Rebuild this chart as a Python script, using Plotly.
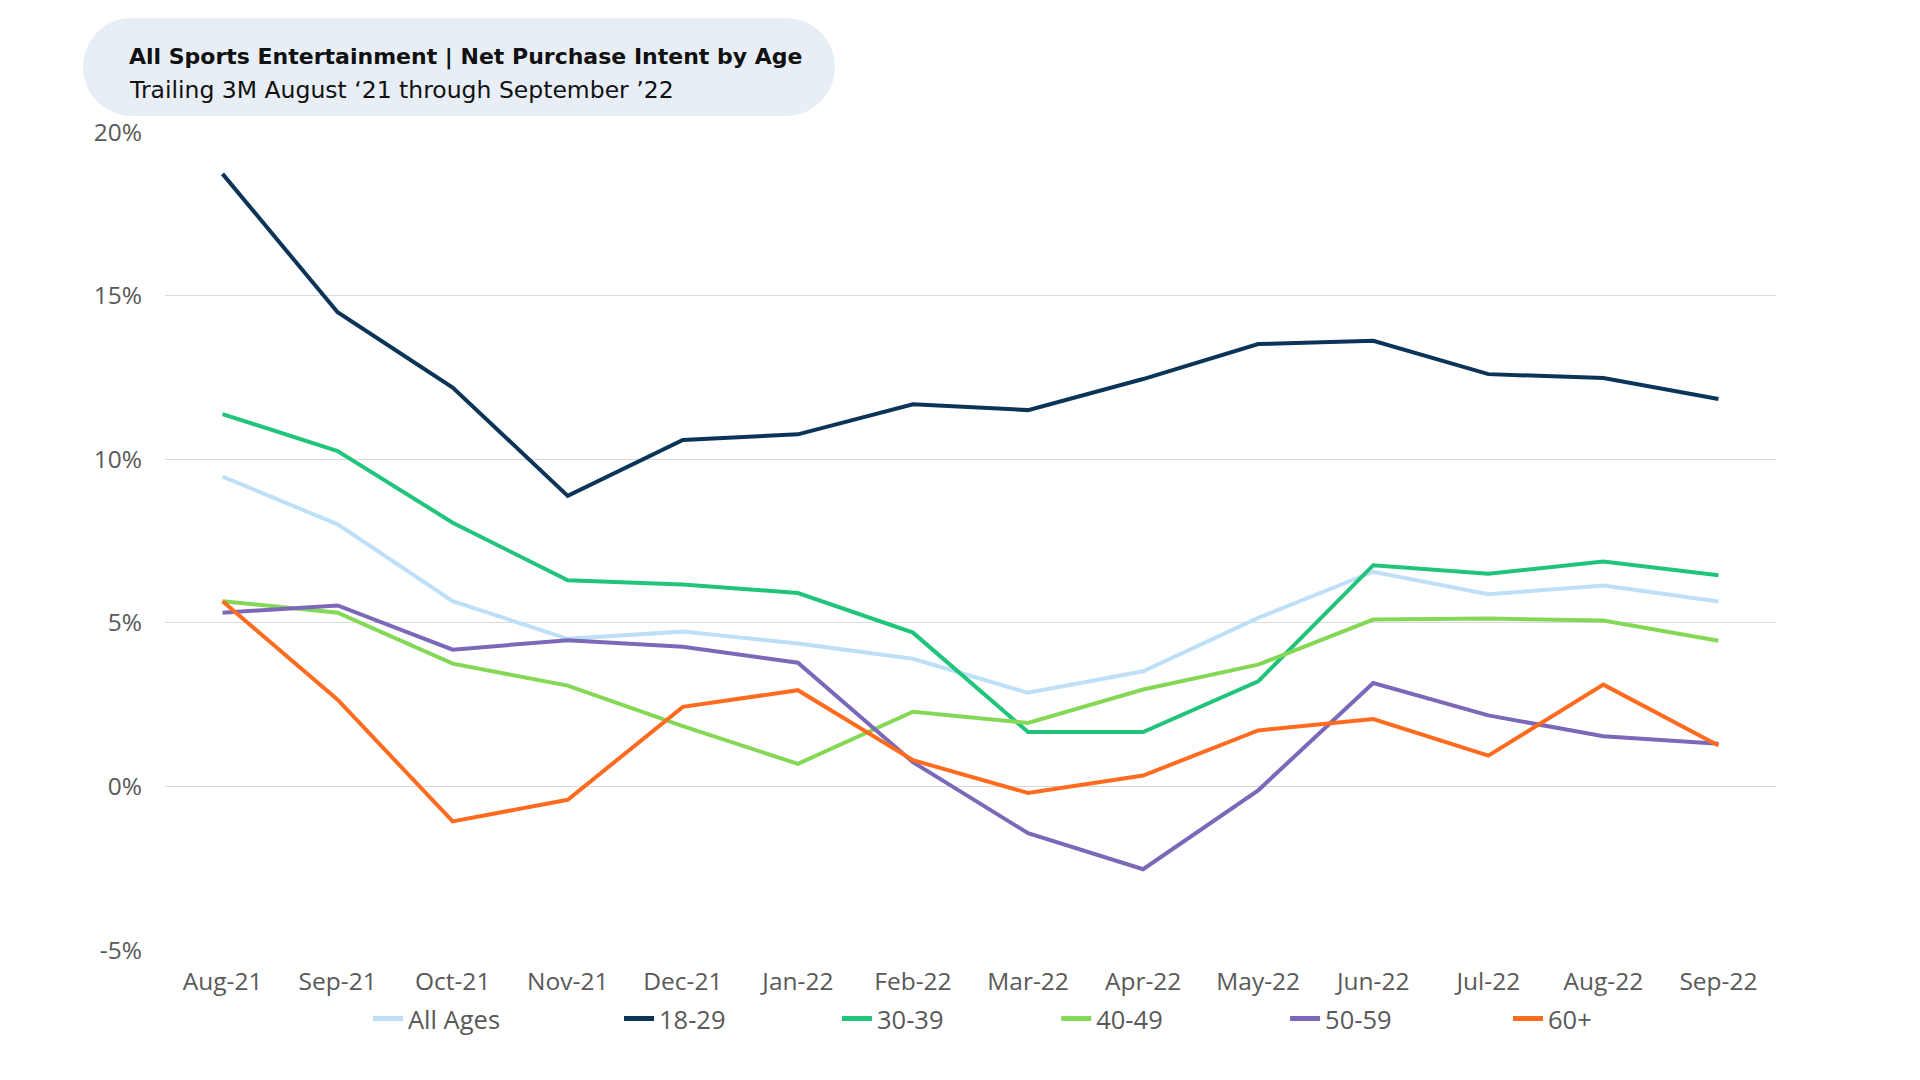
import plotly.graph_objects as go

months = ["Aug-21", "Sep-21", "Oct-21", "Nov-21", "Dec-21", "Jan-22", "Feb-22",
          "Mar-22", "Apr-22", "May-22", "Jun-22", "Jul-22", "Aug-22", "Sep-22"]

all_ages = [9.47, 8.01, 5.66, 4.51, 4.73, 4.37, 3.90, 2.86, 3.52, 5.15, 6.56, 5.87, 6.14, 5.65]
age_18_29 = [18.72, 14.49, 12.19, 8.88, 10.59, 10.76, 11.68, 11.50, 12.45, 13.52, 13.62, 12.60, 12.48, 11.84]
age_30_39 = [11.38, 10.25, 8.06, 6.30, 6.17, 5.91, 4.70, 1.66, 1.66, 3.21, 6.76, 6.50, 6.87, 6.45]
age_40_49 = [5.66, 5.31, 3.75, 3.08, 1.84, 0.69, 2.28, 1.94, 2.96, 3.72, 5.10, 5.13, 5.07, 4.45]
age_50_59 = [5.31, 5.53, 4.18, 4.47, 4.27, 3.78, 0.74, -1.43, -2.53, -0.12, 3.16, 2.17, 1.53, 1.30]
age_60_plus = [5.66, 2.65, -1.07, -0.41, 2.43, 2.94, 0.80, -0.20, 0.33, 1.71, 2.06, 0.94, 3.11, 1.25]

series_names = ["All Ages", "18-29", "30-39", "40-49", "50-59", "60+"]
series_values = [all_ages, age_18_29, age_30_39, age_40_49, age_50_59, age_60_plus]
series_colors = ["#BDDFF8", "#0B3558", "#21C47B", "#84D855", "#7B68B8", "#FF6B1F"]

y_ticks = [-5, 0, 5, 10, 15, 20]
y_tick_labels = ["-5%", "0%", "5%", "10%", "15%", "20%"]

title_text = "All Sports Entertainment | Net Purchase Intent by Age"
subtitle_text = "Trailing 3M August \u201821 through September \u201922"

# page has an 8px body margin; work in screen pixels and shift
OFF = 8
W, H = 1920 - 2 * OFF, 1080 - 2 * OFF
L, R, T, B = 165 - OFF, 1776 - OFF, 132 - OFF, 950 - OFF
PW, PH = R - L, B - T


def px_x(x):
    return (x - OFF - L) / PW


def px_y(y):
    return (B - (y - OFF)) / PH


FONT = "Open Sans"
TITLE_FONT = "DejaVu Sans"

# screen x where each legend entry's line starts
legend_starts = [373.5, 624.5, 842.5, 1061.7, 1290.6, 1513.5]

fig = go.Figure()
for i, (name, vals, col) in enumerate(zip(series_names, series_values, series_colors)):
    lg = "legend" if i == 0 else f"legend{i + 1}"
    fig.add_trace(go.Scatter(
        x=months, y=vals, name=name, mode="lines",
        line=dict(color=col, width=4), legend=lg,
        hovertemplate="%{x}: %{y:.1f}%<extra>" + name + "</extra>",
    ))

# Rounded pill for the title
bx0, bx1, by0, by1 = 83, 835, 18, 116
r = (by1 - by0) / 2
k = 0.5523 * r


def P(x, y):
    return f"{px_x(x):.6f},{px_y(y):.6f}"


path = (
    f"M {P(bx0 + r, by0)} L {P(bx1 - r, by0)} "
    f"C {P(bx1 - r + k, by0)} {P(bx1, by0 + r - k)} {P(bx1, by0 + r)} "
    f"C {P(bx1, by1 - r + k)} {P(bx1 - r + k, by1)} {P(bx1 - r, by1)} "
    f"L {P(bx0 + r, by1)} "
    f"C {P(bx0 + r - k, by1)} {P(bx0, by1 - r + k)} {P(bx0, by1 - r)} "
    f"C {P(bx0, by0 + r - k)} {P(bx0 + r - k, by0)} {P(bx0 + r, by0)} Z"
)

fig.add_shape(type="path", path=path, xref="paper", yref="paper",
              fillcolor="#E8EEF5", line=dict(width=0), layer="below")

fig.add_annotation(x=px_x(127), y=px_y(57.5), xref="paper", yref="paper",
                   text="<b>" + title_text + "</b>", showarrow=False,
                   xanchor="left", yanchor="middle",
                   font=dict(family=TITLE_FONT, size=22, color="#111111"))
fig.add_annotation(x=px_x(127), y=px_y(89.5), xref="paper", yref="paper",
                   text=subtitle_text, showarrow=False,
                   xanchor="left", yanchor="middle",
                   font=dict(family=TITLE_FONT, size=23.5, color="#111111"))

legend_common = dict(orientation="h", xanchor="left", yanchor="middle",
                     font=dict(family=FONT, size=25.5, color="#595959"),
                     itemsizing="constant", bgcolor="rgba(0,0,0,0)")
layout_legends = {}
for i, xs in enumerate(legend_starts):
    key = "legend" if i == 0 else f"legend{i + 1}"
    layout_legends[key] = dict(x=px_x(xs - 5.5), y=px_y(1019), **legend_common)

fig.update_layout(
    width=W, height=H,
    margin=dict(l=L, r=W - R, t=T, b=H - B, pad=0),
    paper_bgcolor="white", plot_bgcolor="white",
    font=dict(family=FONT, size=24.5, color="#595959"),
    showlegend=True,
    xaxis=dict(type="category", range=[-0.5, len(months) - 0.5],
               showgrid=False, zeroline=False, showline=False,
               ticks="", ticklabelstandoff=14, tickfont=dict(size=24.5, color="#595959")),
    yaxis=dict(range=[-5, 20], tickvals=y_ticks, ticktext=y_tick_labels,
               showgrid=True, gridcolor="#D9D9D9", gridwidth=1.3,
               zeroline=False, showline=False, ticks="",
               ticklabelstandoff=22, tickfont=dict(size=24.5, color="#595959")),
    **layout_legends,
)

fig.write_html("out.html")
